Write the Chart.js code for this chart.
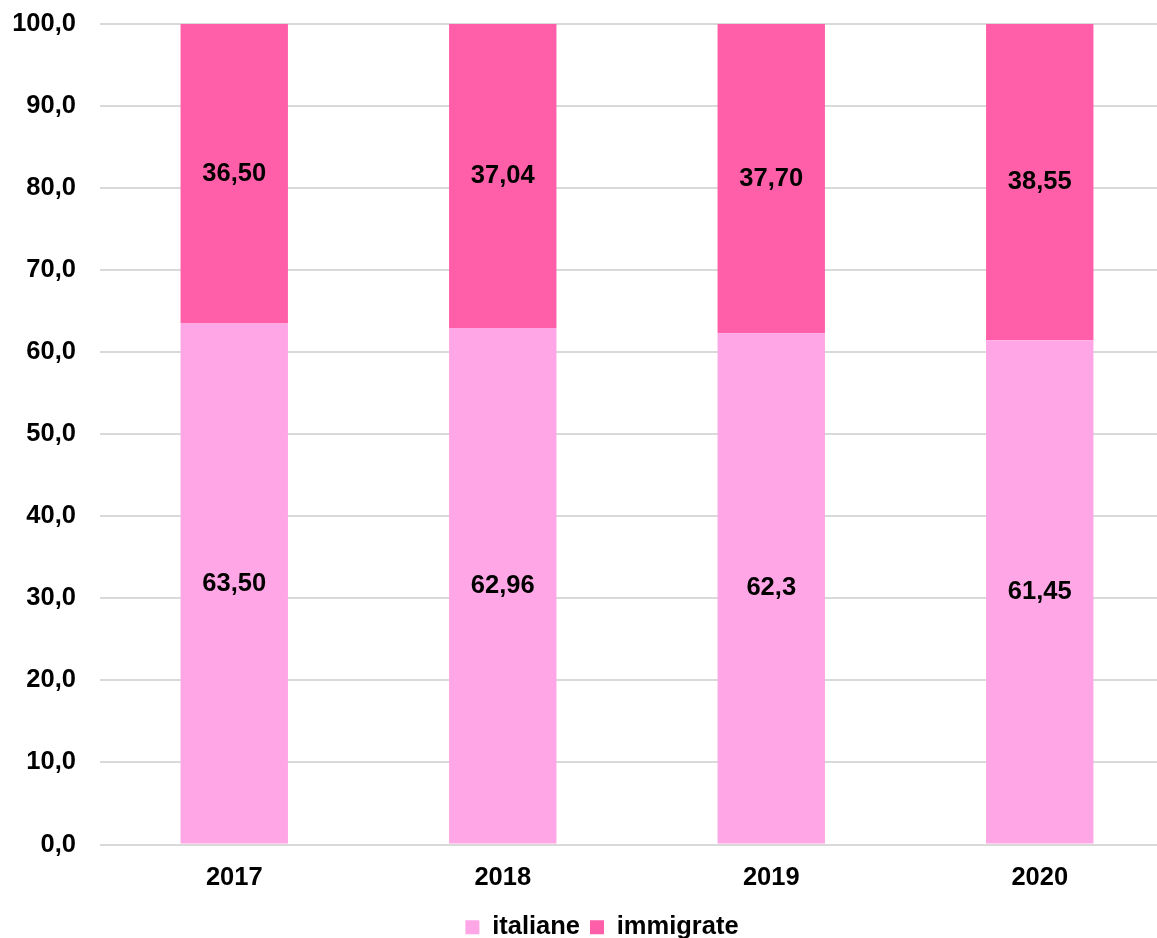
<!DOCTYPE html>
<html>
<head>
<meta charset="utf-8">
<script src="https://cdn.jsdelivr.net/npm/chart.js@4/dist/chart.umd.min.js"></script>
<style>
html,body{margin:0;padding:0;background:#fff;overflow:hidden;}
#wrap{position:absolute;left:0;top:0;width:1204px;height:938px;}
</style>
</head>
<body>
<div id="wrap"><canvas id="c"></canvas></div>
<script>
const categories = ['2017', '2018', '2019', '2020'];
const italiane = [63.50, 62.96, 62.3, 61.45];
const immigrate = [36.50, 37.04, 37.70, 38.55];
const italianeLabels = ['63,50', '62,96', '62,3', '61,45'];
const immigrateLabels = ['36,50', '37,04', '37,70', '38,55'];
const yTickLabels = ['0,0', '10,0', '20,0', '30,0', '40,0', '50,0', '60,0', '70,0', '80,0', '90,0', '100,0'];
const seriesNames = ['italiane', 'immigrate'];

const FONT = "'Liberation Sans', Arial, sans-serif";
const FS = 25.5;

const valueLabels = {
  id: 'valueLabels',
  afterDatasetsDraw(chart) {
    const ctx = chart.ctx;
    const texts = [italianeLabels, immigrateLabels];
    ctx.save();
    ctx.font = 'bold ' + FS + 'px ' + FONT;
    ctx.fillStyle = '#000';
    ctx.textAlign = 'center';
    ctx.textBaseline = 'middle';
    chart.data.datasets.forEach((ds, di) => {
      chart.getDatasetMeta(di).data.forEach((bar, i) => {
        ctx.fillText(texts[di][i], bar.x, (bar.y + bar.base) / 2);
      });
    });
    ctx.restore();
  }
};

new Chart(document.getElementById('c'), {
  type: 'bar',
  data: {
    labels: categories,
    datasets: [
      { label: seriesNames[0], data: italiane, backgroundColor: '#FFA6E6' },
      { label: seriesNames[1], data: immigrate, backgroundColor: '#FF5FA8' }
    ]
  },
  options: {
    responsive: true,
    maintainAspectRatio: false,
    animation: false,
    layout: { padding: { left: 0, right: 0, top: 24, bottom: -12 } },
    datasets: { bar: { categoryPercentage: 1.0, barPercentage: 0.4 } },
    scales: {
      x: {
        stacked: true,
        afterFit(scale) { scale.height = 60; },
        grid: { display: false },
        border: { display: false },
        ticks: { color: '#000', font: { family: FONT, size: FS, weight: 'bold' }, padding: 10 }
      },
      y: {
        stacked: true,
        min: 0, max: 100,
        afterFit(scale) { scale.width = 100; },
        grid: { color: '#d9d9d9', lineWidth: 2, drawTicks: true, tickLength: 24, tickColor: 'rgba(0,0,0,0)' },
        border: { display: false },
        ticks: {
          stepSize: 10,
          color: '#000',
          padding: 0,
          font: { family: FONT, size: FS, weight: 'bold' },
          callback: (v, i) => yTickLabels[Math.round(v / 10)]
        }
      },
      yPad: {
        position: 'right',
        min: 0, max: 100,
        afterFit(scale) { scale.width = 30; },
        grid: { display: false },
        border: { display: false },
        ticks: { display: false }
      }
    },
    plugins: {
      legend: {
        position: 'bottom',
        labels: {
          color: '#000',
          boxWidth: 14, boxHeight: 14,
          padding: 10,
          font: { family: FONT, size: FS, weight: 'bold' }
        }
      },
      tooltip: { enabled: false }
    }
  },
  plugins: [valueLabels]
});
</script>
</body>
</html>
